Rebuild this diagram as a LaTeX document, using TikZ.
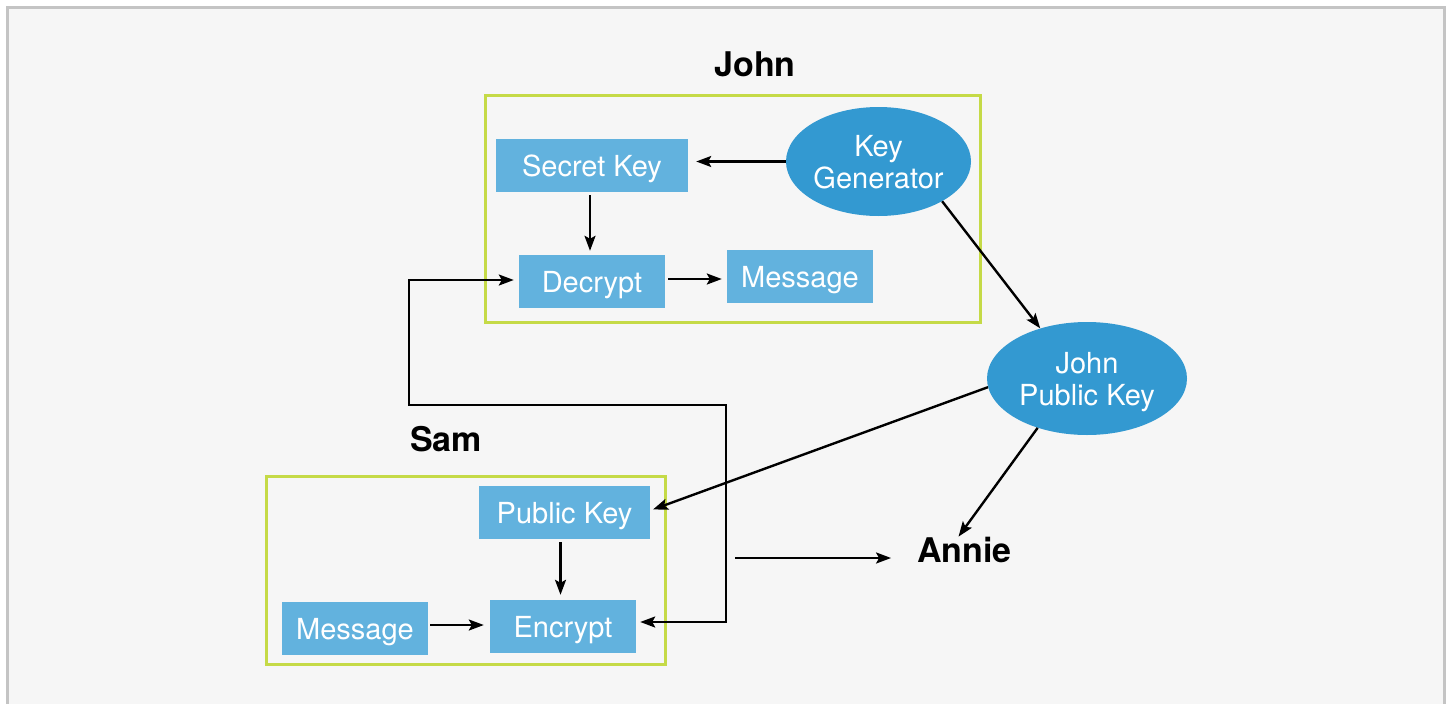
\documentclass[tikz,border=0pt]{standalone}
\usepackage{fontspec}
\setmainfont{TeX Gyre Heros}
\usetikzlibrary{shapes.geometric,arrows.meta,calc}
\definecolor{boxfill}{HTML}{62B2DE}
\definecolor{ellfill}{HTML}{3399D1}
\definecolor{grpline}{HTML}{C5DA47}
\definecolor{bgfill}{HTML}{F6F6F6}
\definecolor{frameline}{HTML}{C4C4C4}
\begin{document}
\begin{tikzpicture}[x=1pt,y=-1pt,
  stepbox/.style={rectangle,fill=boxfill,text=white,inner sep=0pt,minimum height=53pt,
    text height=21pt,text depth=0pt,font=\fontsize{29}{32}\selectfont},
  keyell/.style={ellipse,fill=ellfill,text=white,inner sep=0pt,align=center,
    text height=53pt,text depth=0pt,font=\fontsize{29}{32}\selectfont},
  grpbox/.style={draw=grpline,line width=3pt},
  title/.style={inner sep=0pt,text depth=0pt,font=\fontsize{34}{38}\selectfont\bfseries},
  arr/.style={line width=2.4pt,-{Stealth[length=15pt,width=11pt,inset=3pt]}},
  dblarr/.style={line width=2.4pt,{Stealth[length=15pt,width=11pt,inset=3pt]}-{Stealth[length=15pt,width=11pt,inset=3pt]}}
]
\useasboundingbox (0,0) rectangle (1451,704);
\fill[white] (0,0) rectangle (1451,704);
\draw[frameline,line width=3pt,fill=bgfill] (7.5,7.5) rectangle (1444.5,730);

% group frames
\draw[grpbox] (485,95) rectangle (980,322);
\draw[grpbox] (266,476) rectangle (665,664);

% titles
\node[title] (john) at (755,64) {John};
\node[title] (sam) at (446,439) {Sam};
\node[title] (annie) at (964.5,549.5) {Annie};

% John's nodes
\node[stepbox,minimum width=192pt] (sk) at (592,165.5) {Secret Key};
\node[stepbox,minimum width=146pt] (dec) at (592,281.5) {Decrypt};
\node[stepbox,minimum width=146pt] (msg1) at (800,276.5) {Message};
\node[keyell,minimum width=185pt,minimum height=109pt] (kg) at (878.5,161.5) {Key\\Generator};
\node[keyell,minimum width=200pt,minimum height=113pt] (jpk) at (1087,378.5) {John\\Public Key};

% Sam's nodes
\node[stepbox,minimum width=171pt] (pk) at (564.5,512.5) {Public Key};
\node[stepbox,minimum width=146pt] (enc) at (563,626.5) {Encrypt};
\node[stepbox,minimum width=146pt] (msg2) at (355,628.5) {Message};

% connectors
\draw[arr,shorten >=8pt] (kg.west) -- (kg.west -| sk.east);
\coordinate (skd) at ($(sk.south)+(-2,0)$);
\draw[arr,shorten <=3pt,shorten >=4pt] (skd) -- (skd |- dec.north);
\coordinate (dm) at ($(dec.east)+(0,-2.5)$);
\draw[arr,shorten <=3pt,shorten >=5pt] (dm) -- (dm -| msg1.west);
\draw[arr] (kg.-32) -- (jpk.133);
\draw[arr,shorten >=3pt] (jpk.185) -- ($(pk.east)+(0,-2)$);
\draw[arr] (jpk.225) -- ($(annie.north)+(-6,0)$);
\coordinate (pe) at ($(pk.south)+(-4,0)$);
\draw[arr,shorten <=3pt,shorten >=5pt] (pe) -- (pe |- enc.north);
\coordinate (me) at ($(msg2.east)+(0,-3.5)$);
\draw[arr,shorten <=2pt,shorten >=6pt] (me) -- (me -| enc.west);

\coordinate (free) at (735,558);
\draw[arr,shorten >=26pt] (free) -- (free -| annie.west);

\coordinate (c1) at (726,405);
\coordinate (c2) at (409,405);
\draw[dblarr,shorten <=4pt,shorten >=5pt] ($(enc.east)+(0,-4.5)$) -| (c1) -- (c2) |- ($(dec.west)+(0,-1.5)$);
\end{tikzpicture}
\end{document}
